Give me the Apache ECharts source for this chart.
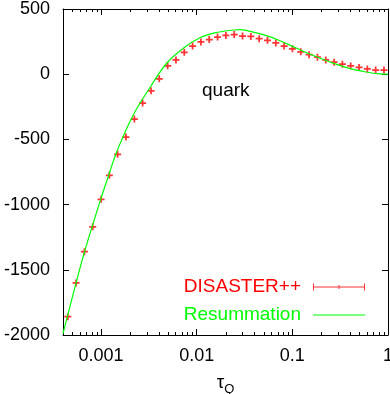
<!DOCTYPE html>
<html>
<head>
<meta charset="utf-8">
<script src="https://cdn.jsdelivr.net/npm/echarts@6/dist/echarts.min.js"></script>
<style>
html, body { margin: 0; padding: 0; background: #fff; }
#chart1 { width: 390px; height: 394px; }
</style>
</head>
<body>
<div id="chart1"></div>
<script>
// DISASTER++ points (tau_Q, value)
var disasterTau = [0.000449, 0.000548, 0.00067, 0.000818, 0.001, 0.00122, 0.00149, 0.00182, 0.00223, 0.00272,
    0.00333, 0.00406, 0.00497, 0.00607, 0.00741, 0.00906, 0.01107, 0.01352, 0.01652, 0.02018,
    0.02466, 0.03013, 0.03681, 0.04498, 0.05495, 0.06714, 0.08204, 0.1002, 0.1225, 0.1496,
    0.1828, 0.2234, 0.2729, 0.3334, 0.4074, 0.4977, 0.6081, 0.743, 0.9078];
var disasterVals = [-1860, -1601, -1361, -1170, -959, -775, -614, -482, -344, -221,
    -127, -35, 64, 109, 168, 216, 247, 266, 285, 297,
    304, 292, 290, 272, 260, 240, 216, 195, 172, 150,
    130, 109, 92, 77, 63, 52, 40, 32, 32];

// Resummation curve
var resumTau = [0.0004, 0.000449, 0.000548, 0.00067, 0.000818, 0.001, 0.00122, 0.00146, 0.00217, 0.00325,
    0.00485, 0.00724, 0.01081, 0.01618, 0.02415, 0.02831, 0.03334, 0.04966, 0.0743, 0.1109,
    0.1656, 0.2472, 0.3698, 0.5521, 0.8241, 1];
var resumVals = [-1990, -1845, -1600, -1365, -1155, -950, -760, -594, -313, -102,
    84, 199, 279, 320, 339, 342, 335, 303, 257, 199,
    143, 94, 50, 21, 2, 0];

// minor ticks of the log axis
var minorTicks = [0.0005, 0.0006, 0.0007, 0.0008, 0.0009,
    0.002, 0.003, 0.004, 0.005, 0.006, 0.007, 0.008, 0.009,
    0.02, 0.03, 0.04, 0.05, 0.06, 0.07, 0.08, 0.09,
    0.2, 0.3, 0.4, 0.5, 0.6, 0.7, 0.8, 0.9];

var xMin = 0.0004, xMax = 1, yMin = -2000, yMax = 500, yStep = 500;
var font = 'Liberation Sans, Arial, Helvetica, sans-serif';

function pairs(xs, ys) {
    var out = [];
    for (var i = 0; i < xs.length; i++) {
        out.push([xs[i], ys[i]]);
    }
    return out;
}

function logLabel(v) {
    var l = Math.log10(v);
    if (Math.abs(l - Math.round(l)) < 1e-6) {
        return String(Math.pow(10, Math.round(l)));
    }
    return '';
}

var axisLine = { show: true, onZero: false, lineStyle: { color: '#000', width: 1 } };
var tick = { show: true, inside: true, length: 6, lineStyle: { color: '#000', width: 1 } };

var chartDom = document.getElementById('chart1');
var myChart1 = echarts.init(chartDom);
var option = {
    animation: false,
    textStyle: { fontFamily: font },
    grid: { left: 63, right: 2, top: 9, bottom: 59, containLabel: false, outerBoundsMode: 'none' },
    legend: {
        orient: 'vertical',
        right: 25,
        top: 277,
        padding: 0,
        align: 'right',
        itemWidth: 52,
        itemHeight: 7,
        itemGap: 8,
        textStyle: { fontSize: 19, lineHeight: 20, fontFamily: font, padding: [0, 7, 0, 0] },
        data: [
            {
                name: 'DISASTER++',
                icon: 'path://M0,3H52V4H0Z M0,0H1V7H0Z M51,0H52V7H51Z M25.5,1.5H26.5V5.5H25.5Z',
                textStyle: { color: '#ff0000' }
            },
            {
                name: 'Resummation',
                icon: 'path://M0,0H52V1.2H0Z',
                itemStyle: { color: '#00ff00' },
                textStyle: { color: '#00ff00' }
            }
        ]
    },
    graphic: [
        {
            type: 'text',
            left: 202,
            top: 81,
            style: { text: 'quark', fontSize: 19, fill: '#000', fontFamily: font }
        }
    ],
    xAxis: [
        {
            type: 'log',
            logBase: 10,
            min: xMin,
            max: xMax,
            position: 'bottom',
            axisLine: axisLine,
            axisTick: tick,
            splitLine: { show: false },
            axisLabel: { formatter: logLabel, fontSize: 18, color: '#000', margin: 12, fontFamily: font },
            name: '{t|τ}{s|Q}',
            nameLocation: 'middle',
            nameGap: 33,
            nameTextStyle: {
                rich: {
                    t: { fontSize: 19, lineHeight: 26, color: '#000', fontFamily: font },
                    s: { fontSize: 13, lineHeight: 13, verticalAlign: 'top', padding: [13, 0, 0, 0], color: '#000', fontFamily: font }
                }
            }
        },
        {
            type: 'log',
            logBase: 10,
            min: xMin,
            max: xMax,
            position: 'top',
            axisLine: axisLine,
            axisTick: tick,
            splitLine: { show: false },
            axisLabel: { show: false }
        }
    ],
    yAxis: [
        {
            type: 'value',
            min: yMin,
            max: yMax,
            interval: yStep,
            position: 'left',
            axisLine: axisLine,
            axisTick: tick,
            splitLine: { show: false },
            axisLabel: {
                fontSize: 18, color: '#000', margin: 13, fontFamily: font,
                formatter: function (v) { return String(v); }
            }
        },
        {
            type: 'value',
            min: yMin,
            max: yMax,
            interval: yStep,
            position: 'right',
            axisLine: axisLine,
            axisTick: tick,
            splitLine: { show: false },
            axisLabel: { show: false }
        }
    ],
    series: [
        {
            name: 'minor',
            type: 'custom',
            silent: true,
            clip: false,
            data: pairs(minorTicks, minorTicks.map(function () { return yMin; })),
            renderItem: function (params, api) {
                var x = api.value(0);
                var b = api.coord([x, yMin]);
                var t = api.coord([x, yMax]);
                var px = Math.round(b[0]) + 0.5;
                return {
                    type: 'group',
                    children: [
                        { type: 'line', shape: { x1: px, y1: b[1], x2: px, y2: b[1] - 3 }, style: { stroke: '#000', lineWidth: 1 } },
                        { type: 'line', shape: { x1: px, y1: t[1], x2: px, y2: t[1] + 3 }, style: { stroke: '#000', lineWidth: 1 } }
                    ]
                };
            }
        },
        {
            name: 'DISASTER++',
            type: 'scatter',
            symbol: 'path://M3,0H5V3H8V5H5V8H3V5H0V3H3Z',
            symbolSize: 7,
            itemStyle: { color: '#ff0000' },
            data: pairs(disasterTau, disasterVals),
            z: 2
        },
        {
            name: 'Resummation',
            type: 'line',
            symbol: 'none',
            showSymbol: false,
            smooth: 0.4,
            lineStyle: { color: '#00ff00', width: 1.2 },
            itemStyle: { color: '#00ff00' },
            data: pairs(resumTau, resumVals),
            z: 3
        }
    ]
};
myChart1.setOption(option);
</script>
</body>
</html>
